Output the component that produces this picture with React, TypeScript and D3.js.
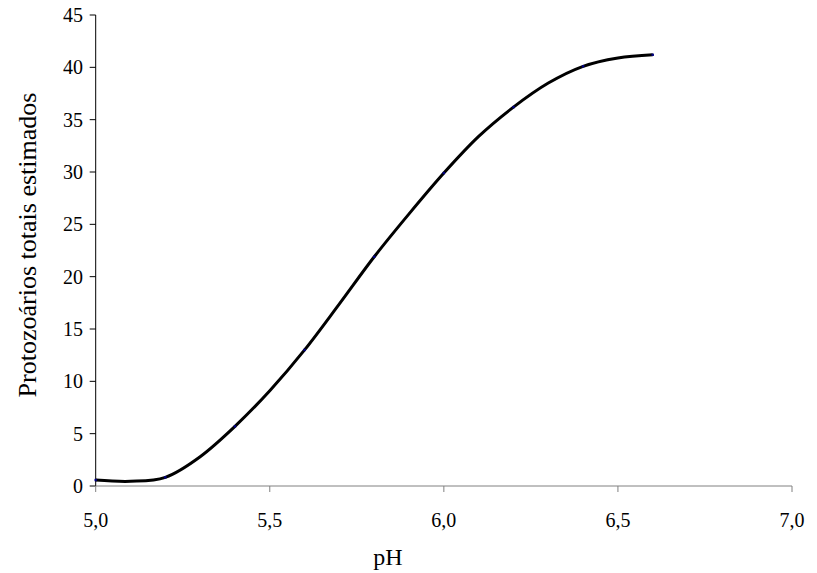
import React from "react";
import * as d3 from "d3";

const phValues = [5.0, 5.1, 5.2, 5.3, 5.4, 5.5, 5.6, 5.7, 5.8, 5.9, 6.0, 6.1, 6.2, 6.3, 6.4, 6.5, 6.6];
const protozoa = [0.57, 0.45, 0.83, 2.8, 5.7, 9.1, 13.0, 17.4, 21.9, 26.0, 29.9, 33.4, 36.2, 38.5, 40.1, 40.9, 41.2];
const xTicks = [5.0, 5.5, 6.0, 6.5, 7.0];
const yTicks = [0, 5, 10, 15, 20, 25, 30, 35, 40, 45];
const xTitle = "pH";
const yTitle = "Protozoários totais estimados";

const W = 817;
const H = 573;
const left = 95.7;
const right = 792;
const top = 15;
const bottom = 486;
const font = "'Liberation Serif', 'Times New Roman', serif";

export default function App() {
  const x = d3.scaleLinear().domain([5, 7]).range([left, right]);
  const y = d3.scaleLinear().domain([0, 45]).range([bottom, top]);
  const pts = phValues.map((p, i) => [x(p), y(protozoa[i])] as [number, number]);
  const line = d3.line().curve(d3.curveCardinal.tension(0))(pts) || "";
  const fmt = (v: number) => v.toFixed(1).replace(".", ",");
  return (
    <svg
      width={W}
      height={H}
      style={{ position: "absolute", left: 0, top: 0, background: "#fff" }}
      fontFamily={font}
    >
      {/* y axis */}
      <line x1={left} x2={left} y1={top} y2={bottom} stroke="#000" strokeWidth={1} />
      {yTicks.map((t) => (
        <g key={t}>
          <line x1={left - 6} x2={left} y1={y(t)} y2={y(t)} stroke="#000" strokeWidth={1} />
          <text x={83} y={y(t)} dy="0.35em" textAnchor="end" fontSize={20} fill="#000">
            {t}
          </text>
        </g>
      ))}
      {/* x axis */}
      <line x1={left} x2={right} y1={bottom} y2={bottom} stroke="#808080" strokeWidth={1} />
      {xTicks.map((t) => (
        <g key={t}>
          <line x1={x(t)} x2={x(t)} y1={bottom} y2={bottom + 6} stroke="#808080" strokeWidth={1} />
          <text x={x(t)} y={520} dy="0.35em" textAnchor="middle" fontSize={20} fill="#000">
            {fmt(t)}
          </text>
        </g>
      ))}
      <text x={388} y={557} dy="0.35em" textAnchor="middle" fontSize={24} fill="#000">
        {xTitle}
      </text>
      <text
        transform={`translate(27, ${(88 + 402) / 2}) rotate(-90)`}
        dy="0.35em"
        textAnchor="middle"
        fontSize={26}
        fill="#000"
      >
        {yTitle}
      </text>
      <path d={line} fill="none" stroke="#000" strokeWidth={3} strokeLinejoin="round" />
      {pts.filter((_, i) => i % 2 === 0).map((p, i) => (
        <rect key={i} x={p[0] - 1.2} y={p[1] - 1.2} width={2.4} height={2.4} fill="#000080" />
      ))}
    </svg>
  );
}
